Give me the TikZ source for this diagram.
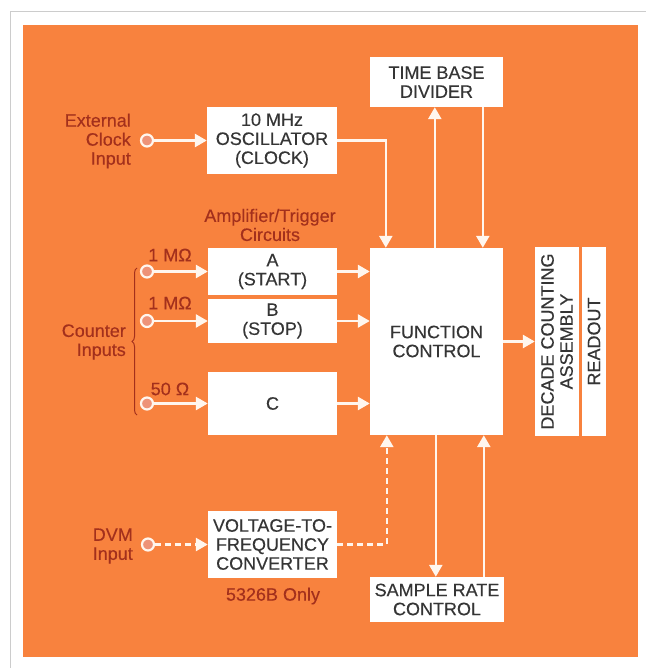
\documentclass[tikz,border=0pt]{standalone}
\usepackage{fontspec}
\setmainfont{Liberation Sans}
\newfontfamily\diagfont[FakeBold=0.3]{Liberation Sans}
\usetikzlibrary{arrows.meta,decorations.pathreplacing,calc}
\definecolor{bgorange}{HTML}{F8823E}
\definecolor{lblred}{HTML}{A3301C}
\definecolor{boxtxt}{HTML}{353535}
\definecolor{wline}{HTML}{FFF6EE}
\definecolor{termfill}{HTML}{EE9378}
\begin{document}
\begin{tikzpicture}[x=1pt,y=-1pt,
  box/.style={draw=none,fill=white,inner sep=0pt,align=center,text=boxtxt,font=\diagfont\fontsize{18}{19}\selectfont},
  lbl/.style={text=lblred,font=\diagfont\fontsize{18}{19}\selectfont,inner sep=0pt},
  wire/.style={draw=wline,line width=2.6pt},
  arr/.style={wire,-{Triangle[width=13pt,length=12pt]}},
  darr/.style={arr,dash pattern=on 6pt off 4pt},
  term/.style={circle,draw=wline,line width=2.2pt,fill=termfill,minimum size=12pt,inner sep=0pt}]
\useasboundingbox (0,0) rectangle (646,668);
\draw[gray!40,line width=1pt] (10,668) -- (10,12) -- (646,12);
\fill[bgorange] (23,25) rectangle (638,657);

% boxes
\node[box,minimum width=133pt,minimum height=50pt] (tbd) at (436.5,82) {TIME BASE\\DIVIDER};
\node[box,minimum width=130pt,minimum height=67pt] (osc) at (272,140.5) {10 MHz\\OSCILLATOR\\(CLOCK)};
\node[box,minimum width=129pt,minimum height=47pt] (a) at (272.5,271.5) {A\\(START)};
\node[box,minimum width=129pt,minimum height=44pt] (b) at (272.5,321) {B\\(STOP)};
\node[box,minimum width=129pt,minimum height=63pt] (c) at (272.5,403.5) {C};
\node[box,minimum width=133pt,minimum height=187pt] (fc) at (436.5,341.5) {FUNCTION\\CONTROL};
\node[box,rotate=90,minimum width=189pt,minimum height=44pt] (dca) at (557,341.5) {DECADE COUNTING\\ASSEMBLY};
\node[box,rotate=90,minimum width=189pt,minimum height=24pt] (ro) at (594,341.5) {READOUT};
\node[box,minimum width=129pt,minimum height=67pt] (vtf) at (272.5,544.5) {VOLTAGE-TO-\\FREQUENCY\\CONVERTER};
\node[box,minimum width=134pt,minimum height=45pt] (src) at (437,599.5) {SAMPLE RATE\\CONTROL};

% terminals
\node[term] (tclk) at (147,140.5) {};
\node[term] (ta) at (147,271.5) {};
\node[term] (tb) at (147,321) {};
\node[term] (tc) at (147,403.5) {};
\node[term] (tdvm) at (148,544.5) {};

% labels
\node[lbl,anchor=east,align=right] (lclk) at (131,141) {External\\Clock\\Input};
\node[lbl,align=center] (lamp) at (270,225) {Amplifier/Trigger\\Circuits};
\node[lbl] (la) at (170,255) {1 MΩ};
\node[lbl] (lb) at (170,303) {1 MΩ};
\node[lbl] (lc) at (170,389) {50 Ω};
\node[lbl,anchor=east,align=right] (lcnt) at (126,342) {Counter\\Inputs};
\node[lbl,anchor=east,align=right] (ldvm) at (133,546) {DVM\\Input};
\node[lbl] (lonly) at (273,596) {5326B Only};
\coordinate (brb) at (137,415);
\coordinate (brt) at (137,268);
\draw[lblred,line width=1pt,decorate,decoration={brace,amplitude=5pt}] (brb) -- (brt);

% connectors
\draw[arr] (tclk) -- (osc.west);
\draw[arr] (osc.east) -| ([xshift=16pt]fc.north west);
\draw[arr] ([xshift=65pt]fc.north west) -- ([xshift=65pt]tbd.south west);
\draw[arr] ([xshift=113pt]tbd.south west) -- ([xshift=113pt]fc.north west);
\draw[arr] (ta) -- (a.west);
\draw[arr] (tb) -- (b.west);
\draw[arr] (tc) -- (c.west);
\draw[arr] (a.east) -- (a.east -| fc.west);
\draw[arr] (b.east) -- (b.east -| fc.west);
\draw[arr] (c.east) -- (c.east -| fc.west);
\draw[arr] (fc.east) -- (dca.north);
\draw[arr] ([xshift=66pt]fc.south west) -- ([xshift=66pt]src.north west);
\draw[arr] ([xshift=114pt]src.north west) -- ([xshift=114pt]fc.south west);
\draw[darr] (tdvm) -- (vtf.west);
\draw[darr] (vtf.east) -| ([xshift=17pt]fc.south west);
\end{tikzpicture}
\end{document}
